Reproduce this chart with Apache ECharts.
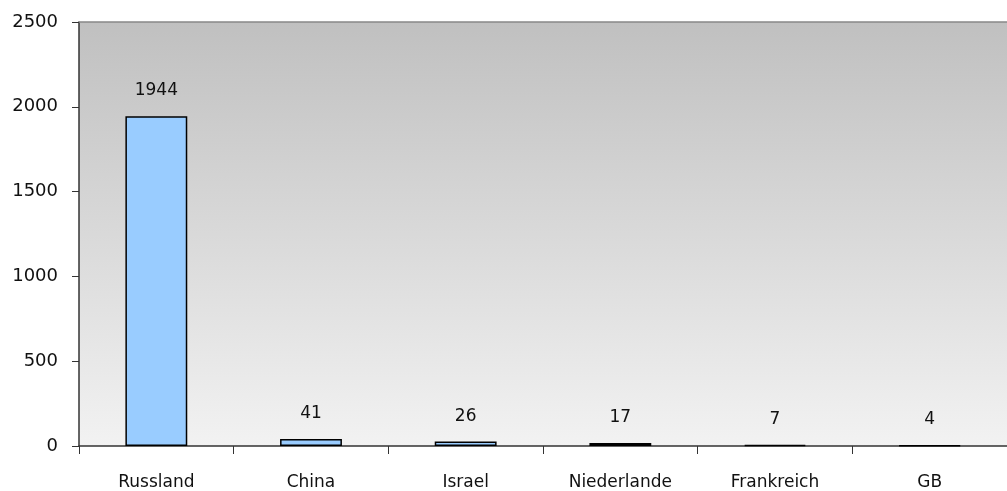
<!DOCTYPE html>
<html><head><meta charset="utf-8">
<script src="https://cdn.jsdelivr.net/npm/echarts@6/dist/echarts.min.js"></script>
<style>html,body{margin:0;padding:0;background:#fff}#c{width:1007px;height:491px}</style>
</head><body><div id="c"></div>
<script>
const categories = ['Russland','China','Israel','Niederlande','Frankreich','GB'];
const values = [1944, 41, 26, 17, 7, 4];
const yTicks = [0, 500, 1000, 1500, 2000, 2500];

const chart = echarts.init(document.getElementById('c'));
const font = '"DejaVu Sans", sans-serif';
chart.setOption({
  animation: false,
  grid: {
    left: 79, top: 22, width: 936, height: 425, show: true, borderWidth: 0,
    backgroundColor: new echarts.graphic.LinearGradient(0,0,0,1,[
      {offset:0,color:'#c0c0c0'},{offset:1,color:'#f2f2f2'}])
  },
  xAxis: [{
    type: 'category', data: categories,
    axisLine: {lineStyle:{color:'#333', width:1.5}},
    axisTick: {show:true, length:8, lineStyle:{color:'#333'}},
    axisLabel: {color:'#111', fontSize:17, fontFamily:font, margin:28},
  },{
    type:'category', position:'top', data: categories,
    axisLine:{lineStyle:{color:'#888', width:1.5}}, axisTick:{show:false}, axisLabel:{show:false}
  }],
  yAxis: {
    type: 'value', min: yTicks[0], max: yTicks[yTicks.length-1], interval: 500,
    axisLine: {show:true, lineStyle:{color:'#333', width:1.5}},
    axisTick: {show:true, length:7, lineStyle:{color:'#333'}},
    splitLine: {show:false},
    axisLabel: {color:'#111', fontSize:18, fontFamily:font, margin:21, formatter: v => String(v)}
  },
  series: [{
    type: 'bar', data: values, barWidth: '40%',
    itemStyle: {color:'#99ccff', borderColor:'#000', borderWidth:1.5},
    label: {show:true, position:'top', distance:17, color:'#111', fontSize:17, fontFamily:font}
  }]
});
</script></body></html>
